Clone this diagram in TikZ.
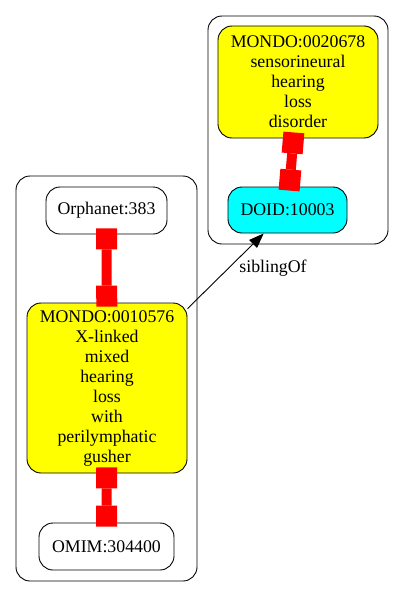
\documentclass[tikz,border=0pt]{standalone}
\usepackage{fontspec}
\setmainfont{Liberation Serif}
\usetikzlibrary{arrows.meta}
\definecolor{termyellow}{RGB}{255,255,0}
\definecolor{termcyan}{RGB}{0,255,255}
\definecolor{xrefred}{RGB}{255,0,0}
\tikzset{
  term/.style={draw=black, line width=0.9pt, rounded corners=14pt, rectangle,
    inner sep=0pt, align=center, font=\fontsize{17.8}{20}\selectfont},
  cluster/.style={draw=black, line width=0.9pt, rounded corners=14pt},
  xref/.style={draw=xrefred, line width=10pt,
    {Square[length=21pt,width=21pt,line width=0pt]}-{Square[length=21pt,width=21pt,line width=0pt]},
    shorten <=-6pt, shorten >=-4pt},
  relation/.style={draw=black, line width=0.9pt, -{Triangle[length=15pt,width=11pt]}}
}
\begin{document}
\begin{tikzpicture}[x=1pt,y=-1pt]
\useasboundingbox (0,0) rectangle (405,597);
\draw[cluster] (208,16) rectangle (388,244) ; % cluster 1
\draw[cluster] (16,176) rectangle (197,581) ; % cluster 2
\node[term, fill=termyellow, minimum width=160pt, minimum height=112pt] (mondoA) at (298,82)
  {MONDO:0020678\\sensorineural\\hearing\\loss\\disorder}; % MONDO:0020678
\node[term, fill=termcyan, minimum width=119pt, minimum height=46pt] (doid) at (287.5,210)
  {DOID:10003}; % DOID:10003
\node[term, fill=white, minimum width=121pt, minimum height=47pt] (orpha) at (106.5,210.5)
  {Orphanet:383}; % Orphanet:383
\node[term, fill=termyellow, minimum width=160pt, minimum height=170pt] (mondoB) at (107,388)
  {MONDO:0010576\\X-linked\\mixed\\hearing\\loss\\with\\perilymphatic\\gusher}; % MONDO:0010576
\node[term, fill=white, minimum width=135pt, minimum height=47pt] (omim) at (106.5,546.5)
  {OMIM:304400}; % OMIM:304400
\draw[xref] (mondoA) -- (doid) ; % equivalent
\draw[xref] (orpha) -- (mondoB) ; % equivalent
\draw[xref] (mondoB) -- (omim) ; % equivalent
\draw[relation] (mondoB) -- (doid) ; % siblingOf
\node[font=\fontsize{17.8}{20}\selectfont] (sib) at (273,268) {siblingOf}; % siblingOf
\end{tikzpicture}
\end{document}
